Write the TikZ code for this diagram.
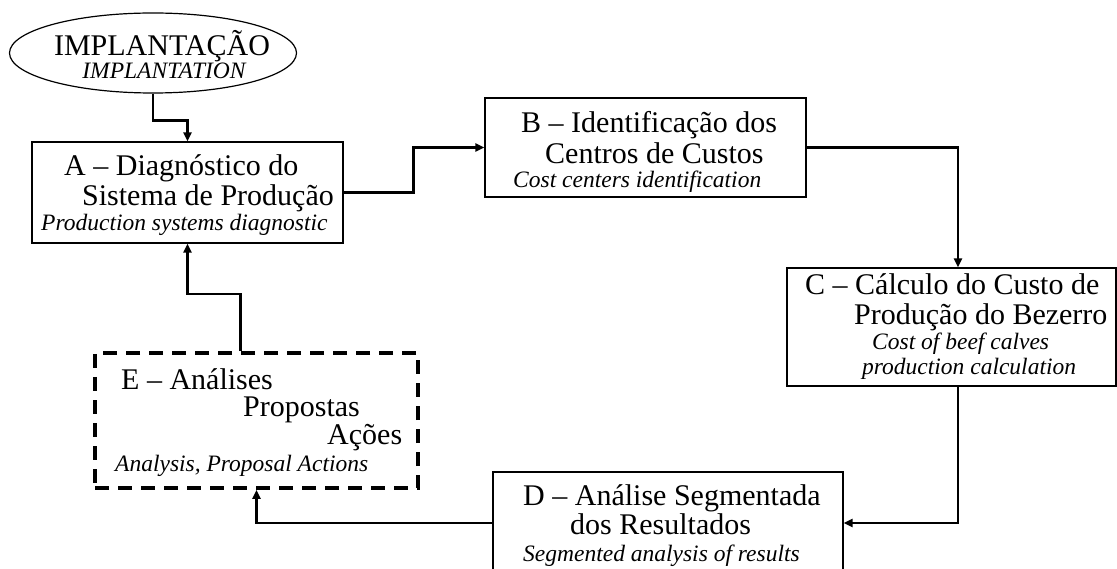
\documentclass[tikz,border=0pt]{standalone}
\usepackage{fontspec}
\setmainfont{Liberation Serif}
\usetikzlibrary{arrows.meta,shapes.geometric}
\tikzset{
  box/.style={draw=black, line width=1.2pt, fill=white, inner sep=0pt},
  dbox/.style={draw=black, line width=3.6pt, dash pattern=on 14pt off 9pt, inner sep=0pt},
  conn/.style={draw=black, line width=2.4pt, -{Triangle[length=9pt,width=8pt]}},
  tmain/.style={inner sep=0pt, anchor=base west, font=\fontsize{30}{31}\selectfont},
  tit/.style={inner sep=0pt, anchor=base west, font=\fontsize{23.5}{25}\selectfont\itshape},
}
\begin{document}
\begin{tikzpicture}[x=1pt,y=-1pt]
\useasboundingbox (0,0) rectangle (1117,569);
% shapes
\node[ellipse, draw=black, line width=1.2pt, minimum width=287pt, minimum height=80pt, inner sep=0pt] (impl) at (153,53) {};
\node[box, minimum width=311pt, minimum height=101pt] (A) at (187.5,192.5) {};
\node[box, minimum width=321pt, minimum height=99pt] (B) at (645.5,147.5) {};
\node[box, minimum width=329pt, minimum height=118pt] (C) at (951.5,327) {};
\node[box, minimum width=350pt, minimum height=102pt] (D) at (668,523) {};
\node[dbox, minimum width=323pt, minimum height=135pt] (E) at (256.5,420.5) {};
% texts
\node[inner sep=0pt, anchor=base, font=\fontsize{30}{31}\selectfont] (i1) at (162,56) {IMPLANTAÇÃO};
\node[inner sep=0pt, anchor=base, font=\fontsize{23.5}{25}\selectfont\itshape] (i2) at (164,79) {IMPLANTATION};
\node[tmain] (a1) at (64,176) {A – Diagnóstico do};
\node[tmain] (a2) at (82,206) {Sistema de Produção};
\node[tit] (a3) at (41,231) {Production systems diagnostic};
\node[tmain] (b1) at (521,133) {B – Identificação dos};
\node[tmain] (b2) at (545,164) {Centros de Custos};
\node[tit] (b3) at (513,188) {Cost centers identification};
\node[tmain] (c1) at (805,295) {C – Cálculo do Custo de};
\node[tmain] (c2) at (854,325) {Produção do Bezerro};
\node[tit] (c3) at (872,350) {Cost of beef calves};
\node[tit] (c4) at (862,374) {production calculation};
\node[tmain] (d1) at (523,505) {D – Análise Segmentada};
\node[tmain] (d2) at (570,534) {dos Resultados};
\node[tit] (d3) at (523,561) {Segmented analysis of results};
\node[tmain] (e1) at (121,390) {E – Análises};
\node[tmain] (e2) at (243,416) {Propostas};
\node[tmain] (e3) at (327,444) {Ações};
\node[tit] (e4) at (115,471) {Analysis, Proposal Actions};
% connectors
\draw[conn] (impl.south) -- ++(0,27) -| (A.north);
\draw[conn] (A.east) -- ++(70,0) |- (B.west);
\draw[conn] (B.east) -| ([xshift=6.5pt]C.north);
\draw[conn] ([xshift=6.5pt]C.south) |- (D.east);
\draw[conn] (D.west) -| (E.south);
\draw[conn] ([xshift=-16pt]E.north) -- ++(0,-57) -| (A.south);
\end{tikzpicture}
\end{document}
